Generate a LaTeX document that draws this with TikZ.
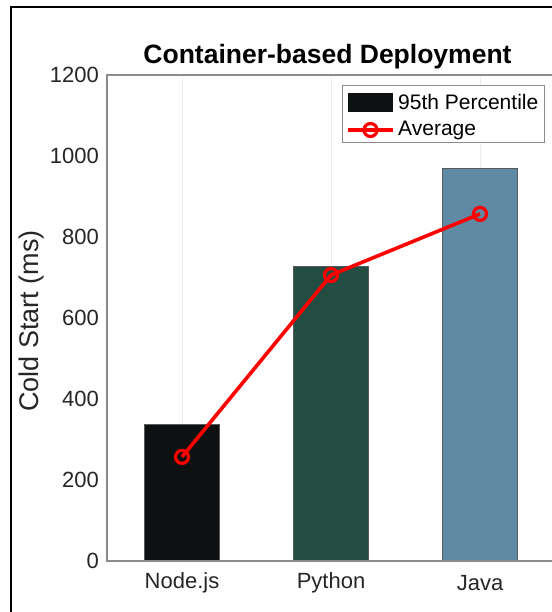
\documentclass[tikz,border=0pt]{standalone}
\usepackage{fontspec}
\setmainfont{Liberation Sans}
\definecolor{nodec}{HTML}{0E1111}
\definecolor{pyc}{HTML}{234D42}
\definecolor{javac}{HTML}{6089A3}
\definecolor{axisgray}{HTML}{8C8C8C}
\definecolor{gridgray}{HTML}{EDEDED}
\definecolor{labelc}{HTML}{262626}
\begin{document}
\begin{tikzpicture}[x=1pt,y=1pt,
  ticklabel/.style={font=\fontsize{22}{24}\selectfont, text=labelc, inner sep=0pt},
  catlabel/.style={font=\fontsize{22}{24}\selectfont, text=labelc, inner sep=0pt},
  ylabelstyle/.style={font=\fontsize{27}{30}\selectfont, text=labelc, inner sep=0pt, rotate=90},
  titlestyle/.style={font=\bfseries\fontsize{26.5}{30}\selectfont, text=black, inner sep=0pt},
  legtext/.style={font=\fontsize{21}{24}\selectfont, text=black, inner sep=0pt, anchor=west},
  barstyle/.style={draw=black!65, line width=0.6pt},
  axisline/.style={draw=axisgray, line width=1.3pt},
  gridline/.style={draw=gridgray, line width=0.8pt},
  avgline/.style={draw=red, line width=3.6pt, line join=round},
  marker/.style={circle, draw=red, line width=3.2pt, minimum size=13pt, inner sep=0pt},
  legendbox/.style={draw=axisgray, fill=white, line width=1pt},
  framestyle/.style={draw=black, line width=2pt}]
\useasboundingbox (0,0) rectangle (551,612);
\fill[white] (0,0) rectangle (551,612);
% outer frame (cropped)
\draw[framestyle] (11,-5) -- (11,605) -- (560,605);
% title and axis label
\node[titlestyle] (title) at (327.5,555) {Container-based Deployment};
\node[ylabelstyle] (ylab) at (32,291) {Cold Start (ms)};
% data area: y in ms
\begin{scope}[shift={(0,51)}, y=0.405pt]
  % grid
  \foreach \cx in {182,331,480} \draw[gridline] (\cx,0) -- (\cx,1200);
  % bars
  \draw[barstyle, fill=nodec] (144.5,0) rectangle (219.5,337);
  \draw[barstyle, fill=pyc] (293.5,0) rectangle (368.5,728);
  \draw[barstyle, fill=javac] (442.5,0) rectangle (517.5,970);
  % axes
  \draw[axisline] (560,0) -- (107,0) -- (107,1200) -- (560,1200);
  % tick labels
  \foreach \v in {0,200,...,1200}
    \node[ticklabel, anchor=east] (t\v) at (99,\v) {\v};
  % average line
  \coordinate (a1) at (182,257);
  \coordinate (a2) at (331,706);
  \coordinate (a3) at (480,857);
  \draw[avgline] (a1) -- (a2) -- (a3);
  \node[marker] (m1) at (a1) {};
  \node[marker] (m2) at (a2) {};
  \node[marker] (m3) at (a3) {};
\end{scope}
% category labels
\node[catlabel] (c1) at (182,29) {Node.js};
\node[catlabel] (c2) at (331,29) {Python};
\node[catlabel] (c3) at (480,29) {Java};
% legend
\draw[legendbox] (342.7,469.3) rectangle (544,526);
\fill[nodec] (348,500) rectangle (393,519.3);
\node[legtext] (l1) at (398,509.5) {95th Percentile};
\coordinate (ls) at (348,482);
\coordinate (le) at (393,482);
\draw[avgline] (ls) -- (le);
\node[marker] (lm) at (370.5,482) {};
\node[legtext] (l2) at (398,482) {Average};
\end{tikzpicture}
\end{document}
